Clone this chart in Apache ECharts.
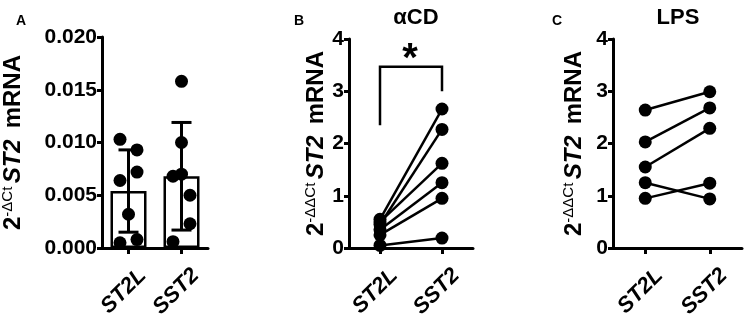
<!DOCTYPE html>
<html>
<head>
<meta charset="utf-8">
<script src="https://cdn.jsdelivr.net/npm/echarts@6/dist/echarts.min.js"></script>
<style>html,body{margin:0;padding:0;background:#fff}#c{width:745px;height:315px}</style>
</head>
<body>
<div id="c"></div>
<script>
// ---- data ----
const categories = ['ST2L', 'SST2'];
// Panel A (2^-ΔCt)
const aST2L = [0.0103, 0.0093, 0.0072, 0.0064, 0.0032, 0.0005, 0.0008];
const aSST2 = [0.0158, 0.0100, 0.0070, 0.0068, 0.0050, 0.0023, 0.0006];
const aJitST2L = [-1, 1, 1, -1, 0, -1, 1];
const aJitSST2 = [0, 0, 0, -1, 1, 1, -1];
const aMean = [0.0054, 0.0068];
const aSD = [0.0039, 0.0051];
const aTicks = [0, 0.005, 0.010, 0.015, 0.020];
// Panel B (αCD, 2^-ΔΔCt)
const bST2L = [0.55, 0.45, 0.50, 0.35, 0.25, 0.05];
const bSST2 = [2.66, 2.27, 1.62, 1.25, 0.95, 0.19];
const bBracket = [2.35, 3.47, 3.47, 3.0];
// Panel C (LPS, 2^-ΔΔCt)
const cST2L = [2.64, 2.03, 1.55, 1.25, 0.95];
const cSST2 = [2.99, 2.68, 2.29, 0.94, 1.24];
const bcTicks = [0, 1, 2, 3, 4];

const FONT = 'Liberation Sans, Arial, sans-serif';
const BLACK = '#000';

function yAxis(idx, ticks, fmt, nameText, gap) {
  return {
    type: 'value', gridIndex: idx,
    min: ticks[0], max: ticks[ticks.length - 1], interval: ticks[1] - ticks[0],
    axisLine: { show: true, lineStyle: { color: BLACK, width: 3 } },
    axisTick: { show: true, length: 5, lineStyle: { color: BLACK, width: 3 } },
    splitLine: { show: false },
    axisLabel: { color: BLACK, fontSize: 21, fontWeight: 'bold', fontFamily: FONT, margin: 5, formatter: fmt },
    name: nameText, nameLocation: 'middle', nameRotate: 90, nameGap: gap,
    nameTextStyle: {
      color: BLACK, fontFamily: FONT,
      rich: {
        n: { fontSize: 24, fontWeight: 'bold', fontFamily: FONT, color: BLACK, lineHeight: 26 },
        s: { fontSize: 15, fontWeight: 'normal', fontFamily: FONT, color: BLACK, verticalAlign: 'top', lineHeight: 26 },
        i: { fontSize: 24, fontWeight: 'bold', fontStyle: 'italic', fontFamily: FONT, color: BLACK, lineHeight: 26 },
        g: { width: 11, lineHeight: 26 }
      }
    }
  };
}
function xAxis(idx) {
  return {
    type: 'category', gridIndex: idx, data: categories, boundaryGap: true,
    axisLine: { show: true, lineStyle: { color: BLACK, width: 3 } },
    axisTick: { show: true, alignWithLabel: true, length: 6, lineStyle: { color: BLACK, width: 3 } },
    axisLabel: {
      color: BLACK, fontSize: 22, fontWeight: 'bold', fontStyle: 'italic', fontFamily: FONT,
      rotate: 45, margin: 10, interval: 0, align: 'right', verticalAlign: 'top', padding: [9, 0, 0, 0]
    }
  };
}

const JIT = 8.5;
function pairSeries(idx, a, b) {
  return a.map((v, i) => ({
    type: 'line', xAxisIndex: idx, yAxisIndex: idx,
    data: [v, b[i]], symbol: 'circle', symbolSize: 13, showSymbol: true,
    itemStyle: { color: BLACK, opacity: 1 }, lineStyle: { color: BLACK, width: 2.5 },
    animation: false, z: 3
  }));
}

const series = [
  {
    type: 'bar', xAxisIndex: 0, yAxisIndex: 0, data: aMean, barWidth: 36,
    itemStyle: { color: '#fff', borderColor: BLACK, borderWidth: 2.5 }, animation: false, z: 1
  },
  {
    type: 'custom', xAxisIndex: 0, yAxisIndex: 0, animation: false, z: 4,
    data: aMean.map((m, i) => [i, m - aSD[i], m + aSD[i]]),
    renderItem: function (params, api) {
      const lo = api.coord([api.value(0), api.value(1)]);
      const hi = api.coord([api.value(0), api.value(2)]);
      const w = 10;
      const st = { stroke: BLACK, lineWidth: 3 };
      return {
        type: 'group', children: [
          { type: 'line', shape: { x1: lo[0], y1: lo[1], x2: hi[0], y2: hi[1] }, style: st },
          { type: 'line', shape: { x1: lo[0] - w, y1: lo[1], x2: lo[0] + w, y2: lo[1] }, style: st },
          { type: 'line', shape: { x1: hi[0] - w, y1: hi[1], x2: hi[0] + w, y2: hi[1] }, style: st }
        ]
      };
    }
  },
  {
    type: 'scatter', xAxisIndex: 0, yAxisIndex: 0, animation: false, z: 5,
    data: aST2L.map((v, i) => ({ value: [0, v], symbolOffset: [aJitST2L[i] * JIT, 0] })),
    symbol: 'circle', symbolSize: 13, itemStyle: { color: BLACK, opacity: 1 }
  },
  {
    type: 'scatter', xAxisIndex: 0, yAxisIndex: 0, animation: false, z: 5,
    data: aSST2.map((v, i) => ({ value: [1, v], symbolOffset: [aJitSST2[i] * JIT, 0] })),
    symbol: 'circle', symbolSize: 13, itemStyle: { color: BLACK, opacity: 1 }
  },
  ...pairSeries(1, bST2L, bSST2),
  ...pairSeries(2, cST2L, cSST2),
  {
    type: 'custom', xAxisIndex: 1, yAxisIndex: 1, animation: false, z: 6,
    data: [[0, bBracket[0], bBracket[1], bBracket[3]]],
    renderItem: function (params, api) {
      const p1 = api.coord([0, bBracket[0]]);
      const p2 = api.coord([0, bBracket[1]]);
      const p3 = api.coord([1, bBracket[2]]);
      const p4 = api.coord([1, bBracket[3]]);
      return {
        type: 'group', children: [
          { type: 'polyline', shape: { points: [p1, p2, p3, p4] }, style: { stroke: BLACK, lineWidth: 2.5, fill: null } },
          { type: 'text', style: { text: '*', x: (p2[0] + p3[0]) / 2 - 1, y: p2[1] + 13, align: 'center', verticalAlign: 'bottom', fontSize: 40, fontWeight: 'bold', fontFamily: FONT, fill: BLACK } }
        ]
      };
    }
  }
];

const chart = echarts.init(document.getElementById('c'), null, { renderer: 'canvas' });
chart.setOption({
  backgroundColor: '#fff',
  animation: false,
  title: [
    { text: 'A', left: 11, top: 9, textStyle: { fontSize: 14, fontWeight: 'bold', fontFamily: FONT, color: BLACK } },
    { text: 'B', left: 289, top: 9, textStyle: { fontSize: 14, fontWeight: 'bold', fontFamily: FONT, color: BLACK } },
    { text: 'C', left: 547, top: 9, textStyle: { fontSize: 14, fontWeight: 'bold', fontFamily: FONT, color: BLACK } },
    { text: 'αCD', left: 411, top: 2, textAlign: 'center', textStyle: { fontSize: 22, fontWeight: 'bold', fontFamily: FONT, color: BLACK } },
    { text: 'LPS', left: 673, top: 2, textAlign: 'center', textStyle: { fontSize: 22, fontWeight: 'bold', fontFamily: FONT, color: BLACK } }
  ],
  grid: [
    { left: 102, top: 37, width: 106, height: 211, outerBoundsMode: 'none', containLabel: false },
    { left: 349, top: 39, width: 124, height: 209, outerBoundsMode: 'none', containLabel: false },
    { left: 613, top: 39, width: 129, height: 209, outerBoundsMode: 'none', containLabel: false }
  ],
  xAxis: [xAxis(0), xAxis(1), xAxis(2)],
  yAxis: [
    yAxis(0, aTicks, v => v.toFixed(3), '{n|2}{s|-ΔCt} {i|ST2}{g|}{n|mRNA}', 76),
    yAxis(1, bcTicks, v => String(v), '{n|2}{s|-ΔΔCt} {i|ST2}{g|}{n|mRNA}', 19),
    yAxis(2, bcTicks, v => String(v), '{n|2}{s|-ΔΔCt} {i|ST2}{g|}{n|mRNA}', 26)
  ],
  series: series
});
</script>
</body>
</html>
